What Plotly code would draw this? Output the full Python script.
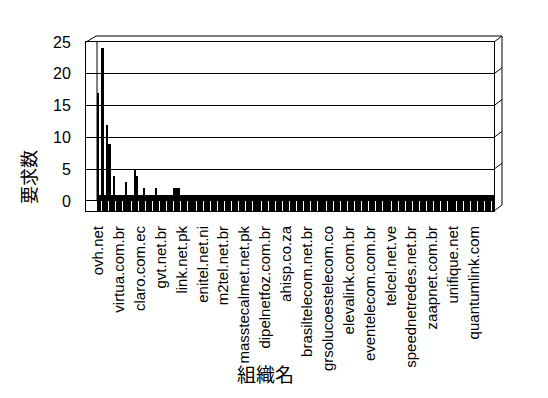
import plotly.graph_objects as go

# Request counts per organisation, in display order (171 organisations)
counts = [
    17, 1, 24, 1, 12, 9, 1, 4, 1, 1, 1, 1, 3, 1, 1, 1, 5, 4, 1, 1,
    2, 1, 1, 1, 1, 2, 1, 1, 1, 1, 1, 1, 1, 2, 2, 2, 1, 1, 1, 1,
    1, 1, 1, 1, 1, 1, 1, 1, 1, 1, 1, 1, 1, 1, 1, 1, 1, 1, 1, 1,
    1, 1, 1, 1, 1, 1, 1, 1, 1, 1, 1, 1, 1, 1, 1, 1, 1, 1, 1, 1,
    1, 1, 1, 1, 1, 1, 1, 1, 1, 1, 1, 1, 1, 1, 1, 1, 1, 1, 1, 1,
    1, 1, 1, 1, 1, 1, 1, 1, 1, 1, 1, 1, 1, 1, 1, 1, 1, 1, 1, 1,
    1, 1, 1, 1, 1, 1, 1, 1, 1, 1, 1, 1, 1, 1, 1, 1, 1, 1, 1, 1,
    1, 1, 1, 1, 1, 1, 1, 1, 1, 1, 1, 1, 1, 1, 1, 1, 1, 1, 1, 1,
    1, 1, 1, 1, 1, 1, 1, 1, 1, 1, 1,
]

# Organisation names shown on the axis (every 9th organisation)
label_step = 9
labels = [
    "ovh.net", "virtua.com.br", "claro.com.ec", "gvt.net.br", "link.net.pk",
    "enitel.net.ni", "m2tel.net.br", "masstecalmet.net.pk", "dipelnetfoz.com.br",
    "ahisp.co.za", "brasiltelecom.net.br", "grsolucoestelecom.co",
    "elevalink.com.br", "eventelecom.com.br", "telcel.net.ve",
    "speednetredes.net.br", "zaapnet.com.br", "unifique.net", "quantumlink.com",
]
y_ticks = [0, 5, 10, 15, 20, 25]

n = len(counts)
idx = list(range(n))
label_pos = [i * label_step for i in range(len(labels))]

W, H = 548, 398
L, R, T, B = 86, 54, 42, 187
plot_w, plot_h = W - L - R, H - T - B
y_lo, y_hi = -1.575, 25.0
wall = 11  # left side-wall width in px
x_lo = -0.5 - wall / (396.0 / n)
x_hi = n - 0.5

fig = go.Figure()

# floor strip: solid band of every column up to its first unit
fig.add_bar(x=idx, y=[min(c, 1) for c in counts], base=0, width=1.0,
            marker=dict(color="black", line=dict(width=0)), hoverinfo="skip")
# columns
fig.add_bar(x=idx, y=counts, base=0, width=0.72,
            marker=dict(color="black", line=dict(width=0)))
# front faces of the columns below the floor line
fig.add_bar(x=idx, y=[abs(y_lo)] * n, base=y_lo, width=0.62,
            marker=dict(color="black", line=dict(width=0)), hoverinfo="skip")


def px(xp):
    return (xp - L) / plot_w


def py(yp):
    return (H - B - yp) / plot_h


def vy(v):
    return (v - y_lo) / (y_hi - y_lo)


line = dict(color="black", width=1)
dx, dy = 8 / plot_w, 6 / plot_h
shapes = []
# back-left edge of the wall
shapes.append(dict(type="line", xref="x", yref="y", x0=-0.5, x1=-0.5,
                   y0=0, y1=y_hi, line=line, layer="below"))
# top back edge and top-left corner
shapes.append(dict(type="line", xref="paper", yref="paper",
                   x0=px(96), x1=1 + dx, y0=1 + dy, y1=1 + dy, line=line))
shapes.append(dict(type="line", xref="paper", yref="paper",
                   x0=0, x1=px(96), y0=1, y1=1 + dy, line=line))
# right side wall
shapes.append(dict(type="line", xref="paper", yref="paper",
                   x0=1 + dx, x1=1 + dx, y0=dy, y1=1 + dy, line=line))
for v in y_ticks[1:]:
    shapes.append(dict(type="line", xref="paper", yref="paper",
                       x0=1, x1=1 + dx, y0=vy(v), y1=vy(v) + dy, line=line))
shapes.append(dict(type="line", xref="paper", yref="paper",
                   x0=1, x1=1 + dx, y0=0, y1=dy, line=line))

fig.update_layout(
    width=W, height=H,
    margin=dict(l=L, r=R, t=T, b=B, pad=0),
    paper_bgcolor="white", plot_bgcolor="white",
    barmode="overlay", bargap=0, showlegend=False,
    font=dict(family="Liberation Sans, Arial, sans-serif", color="black"),
    shapes=shapes,
    xaxis=dict(range=[x_lo, x_hi], tickmode="array", tickvals=label_pos,
               ticktext=labels, tickangle=-90, ticks="", showgrid=False,
               zeroline=False, showline=True, mirror=True, linecolor="black",
               linewidth=1, tickfont=dict(size=15), ticklabelstandoff=8),
    yaxis=dict(range=[y_lo, y_hi], tickmode="array", tickvals=y_ticks,
               ticks="", showgrid=True, gridcolor="black", gridwidth=1,
               zeroline=False, showline=True, mirror=True, linecolor="black",
               linewidth=1, tickfont=dict(size=16), ticklabelstandoff=11),
    annotations=[
        dict(text="組織名", xref="paper", yref="paper", x=px(265), y=py(373),
             xanchor="center", yanchor="middle", showarrow=False,
             font=dict(size=19, family="Noto Sans CJK JP")),
        dict(text="要求数", xref="paper", yref="paper", x=px(28), y=py(177),
             xanchor="center", yanchor="middle", showarrow=False,
             textangle=-90, font=dict(size=18, family="Noto Sans CJK JP")),
    ],
)

fig.write_html("out.html")
